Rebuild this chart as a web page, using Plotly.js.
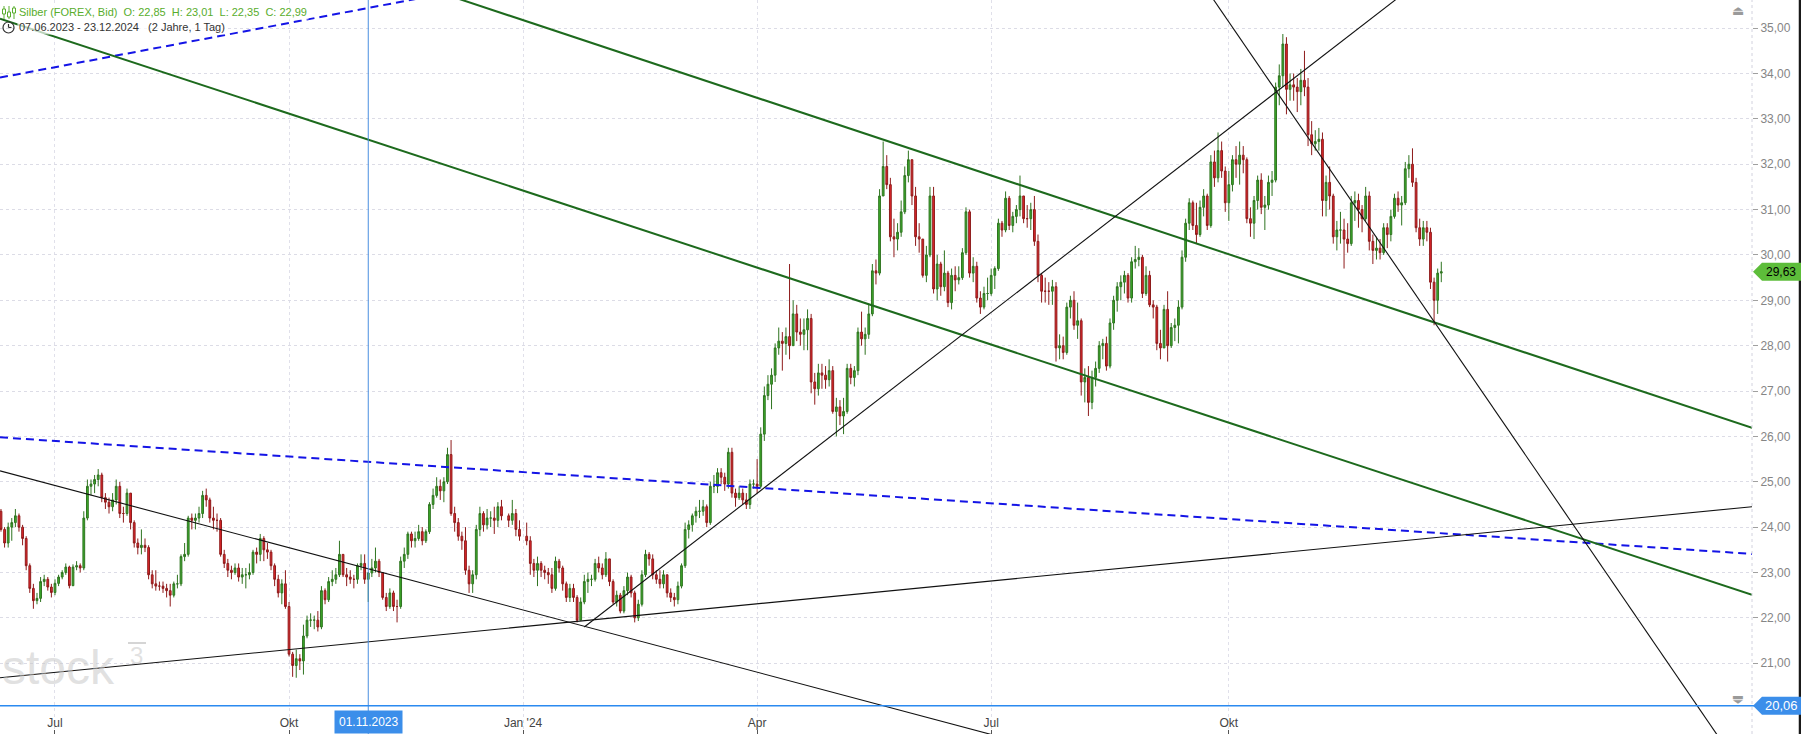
<!DOCTYPE html>
<html><head><meta charset="utf-8">
<script src="https://cdn.plot.ly/plotly-3.0.1.min.js"></script>
<style>html,body{margin:0;padding:0;background:#fff;overflow:hidden}#chart{width:1801px;height:734px}</style>
</head><body><div id="chart"></div>
<script>
// ---------- data (daily candles, Silber FOREX Bid) ----------
const dates = [
'2023-06-07','2023-06-08','2023-06-09','2023-06-12','2023-06-13','2023-06-14','2023-06-15','2023-06-16','2023-06-19','2023-06-20','2023-06-21','2023-06-22','2023-06-23','2023-06-26','2023-06-27','2023-06-28','2023-06-29','2023-06-30',
'2023-07-03','2023-07-04','2023-07-05','2023-07-06','2023-07-07','2023-07-10','2023-07-11','2023-07-12','2023-07-13','2023-07-14','2023-07-17','2023-07-18','2023-07-19','2023-07-20','2023-07-21','2023-07-24','2023-07-25','2023-07-26','2023-07-27','2023-07-28','2023-07-31',
'2023-08-01','2023-08-02','2023-08-03','2023-08-04','2023-08-07','2023-08-08','2023-08-09','2023-08-10','2023-08-11','2023-08-14','2023-08-15','2023-08-16','2023-08-17','2023-08-18','2023-08-21','2023-08-22','2023-08-23','2023-08-24','2023-08-25','2023-08-28','2023-08-29','2023-08-30','2023-08-31',
'2023-09-01','2023-09-04','2023-09-05','2023-09-06','2023-09-07','2023-09-08','2023-09-11','2023-09-12','2023-09-13','2023-09-14','2023-09-15','2023-09-18','2023-09-19','2023-09-20','2023-09-21','2023-09-22','2023-09-25','2023-09-26','2023-09-27','2023-09-28','2023-09-29',
'2023-10-02','2023-10-03','2023-10-04','2023-10-05','2023-10-06','2023-10-09','2023-10-10','2023-10-11','2023-10-12','2023-10-13','2023-10-16','2023-10-17','2023-10-18','2023-10-19','2023-10-20','2023-10-23','2023-10-24','2023-10-25','2023-10-26','2023-10-27','2023-10-30','2023-10-31',
'2023-11-01','2023-11-02','2023-11-03','2023-11-06','2023-11-07','2023-11-08','2023-11-09','2023-11-10','2023-11-13','2023-11-14','2023-11-15','2023-11-16','2023-11-17','2023-11-20','2023-11-21','2023-11-22','2023-11-23','2023-11-24','2023-11-27','2023-11-28','2023-11-29','2023-11-30',
'2023-12-01','2023-12-04','2023-12-05','2023-12-06','2023-12-07','2023-12-08','2023-12-11','2023-12-12','2023-12-13','2023-12-14','2023-12-15','2023-12-18','2023-12-19','2023-12-20','2023-12-21','2023-12-22','2023-12-26','2023-12-27','2023-12-28','2023-12-29',
'2024-01-02','2024-01-03','2024-01-04','2024-01-05','2024-01-08','2024-01-09','2024-01-10','2024-01-11','2024-01-12','2024-01-15','2024-01-16','2024-01-17','2024-01-18','2024-01-19','2024-01-22','2024-01-23','2024-01-24','2024-01-25','2024-01-26','2024-01-29','2024-01-30','2024-01-31',
'2024-02-01','2024-02-02','2024-02-05','2024-02-06','2024-02-07','2024-02-08','2024-02-09','2024-02-12','2024-02-13','2024-02-14','2024-02-15','2024-02-16','2024-02-19','2024-02-20','2024-02-21','2024-02-22','2024-02-23','2024-02-26','2024-02-27','2024-02-28','2024-02-29',
'2024-03-01','2024-03-04','2024-03-05','2024-03-06','2024-03-07','2024-03-08','2024-03-11','2024-03-12','2024-03-13','2024-03-14','2024-03-15','2024-03-18','2024-03-19','2024-03-20','2024-03-21','2024-03-22','2024-03-25','2024-03-26','2024-03-27','2024-03-28','2024-03-29',
'2024-04-01','2024-04-02','2024-04-03','2024-04-04','2024-04-05','2024-04-08','2024-04-09','2024-04-10','2024-04-11','2024-04-12','2024-04-15','2024-04-16','2024-04-17','2024-04-18','2024-04-19','2024-04-22','2024-04-23','2024-04-24','2024-04-25','2024-04-26','2024-04-29','2024-04-30',
'2024-05-01','2024-05-02','2024-05-03','2024-05-06','2024-05-07','2024-05-08','2024-05-09','2024-05-10','2024-05-13','2024-05-14','2024-05-15','2024-05-16','2024-05-17','2024-05-20','2024-05-21','2024-05-22','2024-05-23','2024-05-24','2024-05-27','2024-05-28','2024-05-29','2024-05-30','2024-05-31',
'2024-06-03','2024-06-04','2024-06-05','2024-06-06','2024-06-07','2024-06-10','2024-06-11','2024-06-12','2024-06-13','2024-06-14','2024-06-17','2024-06-18','2024-06-19','2024-06-20','2024-06-21','2024-06-24','2024-06-25','2024-06-26','2024-06-27','2024-06-28',
'2024-07-01','2024-07-02','2024-07-03','2024-07-04','2024-07-05','2024-07-08','2024-07-09','2024-07-10','2024-07-11','2024-07-12','2024-07-15','2024-07-16','2024-07-17','2024-07-18','2024-07-19','2024-07-22','2024-07-23','2024-07-24','2024-07-25','2024-07-26','2024-07-29','2024-07-30','2024-07-31',
'2024-08-01','2024-08-02','2024-08-05','2024-08-06','2024-08-07','2024-08-08','2024-08-09','2024-08-12','2024-08-13','2024-08-14','2024-08-15','2024-08-16','2024-08-19','2024-08-20','2024-08-21','2024-08-22','2024-08-23','2024-08-26','2024-08-27','2024-08-28','2024-08-29','2024-08-30',
'2024-09-02','2024-09-03','2024-09-04','2024-09-05','2024-09-06','2024-09-09','2024-09-10','2024-09-11','2024-09-12','2024-09-13','2024-09-16','2024-09-17','2024-09-18','2024-09-19','2024-09-20','2024-09-23','2024-09-24','2024-09-25','2024-09-26','2024-09-27','2024-09-30',
'2024-10-01','2024-10-02','2024-10-03','2024-10-04','2024-10-07','2024-10-08','2024-10-09','2024-10-10','2024-10-11','2024-10-14','2024-10-15','2024-10-16','2024-10-17','2024-10-18','2024-10-21','2024-10-22','2024-10-23','2024-10-24','2024-10-25','2024-10-28','2024-10-29','2024-10-30','2024-10-31',
'2024-11-01','2024-11-04','2024-11-05','2024-11-06','2024-11-07','2024-11-08','2024-11-11','2024-11-12','2024-11-13','2024-11-14','2024-11-15','2024-11-18','2024-11-19','2024-11-20','2024-11-21','2024-11-22','2024-11-25','2024-11-26','2024-11-27','2024-11-28','2024-11-29',
'2024-12-02','2024-12-03','2024-12-04','2024-12-05','2024-12-06','2024-12-09','2024-12-10','2024-12-11','2024-12-12','2024-12-13','2024-12-16','2024-12-17','2024-12-18','2024-12-19','2024-12-20','2024-12-23'
];
const open = [
23.60,23.55,24.05,24.35,23.95,23.65,24.00,24.10,24.25,24.00,23.75,23.15,22.65,22.38,22.43,22.80,22.85,22.68,
22.56,22.76,22.90,23.00,23.12,22.71,23.12,23.15,23.10,24.20,24.90,24.95,25.05,25.15,24.65,24.55,24.45,24.60,24.90,24.30,24.30,
24.75,24.10,23.65,23.55,23.60,23.55,22.95,22.75,22.70,22.70,22.65,22.60,22.50,22.75,22.75,23.35,23.40,24.20,24.15,24.20,24.30,24.70,24.60,
24.20,24.15,24.15,23.40,23.20,23.05,23.00,23.10,22.90,22.95,22.95,23.00,23.45,23.40,23.75,23.50,23.45,23.15,22.85,22.55,22.75,
22.25,21.20,20.95,21.10,21.05,21.60,21.95,21.95,21.95,21.80,22.60,22.40,22.80,22.85,22.95,23.40,22.95,22.90,22.85,22.85,23.15,23.20,
22.85,22.99,23.10,23.25,23.00,22.45,22.25,22.55,22.25,22.25,23.25,23.40,23.85,23.70,23.75,23.90,23.70,23.90,24.50,24.70,24.90,24.80,
25.00,25.60,24.30,24.10,23.80,23.70,23.05,22.75,22.95,23.95,24.30,24.05,24.20,24.20,24.15,24.45,24.25,24.15,24.30,23.95,
23.80,23.70,23.20,23.05,23.20,23.05,23.00,22.95,22.65,23.25,23.10,22.75,22.45,22.65,22.45,21.95,22.35,22.80,22.85,22.85,23.20,23.10,
22.95,23.30,22.80,22.35,22.50,22.15,22.60,22.90,22.55,22.00,22.30,22.95,23.40,23.30,22.95,22.85,22.75,22.95,22.55,22.45,22.40,
22.70,23.15,23.95,24.05,24.25,24.35,24.35,24.45,24.10,24.90,24.90,25.20,25.10,24.95,25.65,24.75,24.65,24.75,24.60,24.50,24.95,
24.95,24.90,26.05,26.90,27.15,27.35,27.95,28.10,28.05,28.20,28.00,28.70,28.30,28.25,28.35,28.60,27.20,27.05,27.40,27.35,27.25,27.45,
26.55,26.65,26.45,26.55,27.50,27.30,27.45,28.30,28.15,28.25,28.70,29.65,29.60,31.30,31.95,31.55,30.40,30.35,30.50,30.95,31.75,32.10,31.30,
30.40,30.35,29.55,30.00,31.30,29.25,29.80,29.30,29.60,28.95,29.55,29.45,29.50,30.05,30.95,29.60,29.75,29.05,28.85,29.15,
29.15,29.55,29.70,30.70,30.55,31.25,30.65,30.85,31.00,31.30,30.80,30.80,31.00,30.30,29.55,29.20,29.20,29.20,29.30,27.95,28.00,27.85,28.85,
29.00,28.45,28.55,27.20,27.30,26.75,27.30,27.50,28.00,28.05,27.55,28.50,29.00,29.30,29.40,29.55,29.05,29.85,29.90,29.95,29.15,29.55,
28.90,28.85,28.05,27.95,28.80,28.00,28.40,28.45,28.85,29.95,30.70,31.15,30.65,30.45,31.05,31.30,30.65,32.05,31.70,32.30,31.85,
31.15,31.55,32.10,32.00,32.20,32.10,30.80,30.70,31.20,31.65,31.05,31.10,31.60,31.65,33.70,33.95,34.65,33.65,33.75,33.70,33.60,33.85,33.70,
32.65,32.45,32.50,32.55,31.20,31.60,31.30,30.40,30.55,30.55,30.35,30.25,31.15,31.20,31.00,30.80,31.30,30.30,30.10,30.15,30.05,
30.60,30.45,30.85,31.25,31.10,31.15,31.90,32.00,31.60,30.60,30.35,30.60,30.50,29.40,29.00,29.60
];
const high = [
23.80,24.15,24.45,24.40,24.00,24.10,24.20,24.40,24.30,24.05,23.80,23.20,22.75,22.55,22.90,22.95,22.90,22.75,
22.85,22.95,23.05,23.20,23.15,23.18,23.25,23.20,24.35,25.05,25.05,25.15,25.28,25.20,24.75,24.65,24.75,25.05,25.00,24.45,24.85,
24.75,24.15,23.75,23.95,23.75,23.60,23.05,23.05,22.80,22.80,22.75,22.75,22.80,22.95,23.40,23.65,24.25,24.30,24.30,24.45,24.80,24.85,24.65,
24.45,24.30,24.20,23.50,23.30,23.15,23.20,23.20,23.10,23.10,23.20,23.50,23.55,23.85,23.80,23.65,23.50,23.20,22.95,22.85,23.05,
22.35,21.25,21.30,21.20,21.85,22.05,22.10,22.05,22.15,22.70,22.65,22.90,23.05,23.10,23.70,23.40,23.10,23.05,22.95,23.20,23.40,23.40,
23.01,23.30,23.55,23.30,23.00,22.55,22.65,22.60,22.40,23.35,23.55,23.90,23.90,23.90,24.05,24.00,23.95,24.55,24.85,25.10,25.05,25.10,
25.75,25.92,24.45,24.20,23.90,24.00,23.15,23.05,24.05,24.45,24.35,24.40,24.35,24.45,24.55,24.60,24.30,24.60,24.40,24.15,
24.10,23.80,23.30,23.35,23.25,23.15,23.10,23.10,23.35,23.30,23.15,22.80,22.75,22.75,22.50,22.45,22.95,23.00,22.95,23.30,23.35,23.20,
23.45,23.30,22.85,22.60,22.55,22.70,23.00,22.95,22.60,22.40,23.05,23.50,23.45,23.40,23.05,23.05,23.05,22.95,22.65,22.55,22.80,
23.20,24.10,24.15,24.30,24.45,24.60,24.60,24.50,25.00,25.15,25.30,25.30,25.20,25.75,25.75,24.85,24.90,24.85,24.75,25.05,25.05,
25.50,26.20,27.10,27.35,27.50,28.05,28.40,28.30,28.40,29.80,29.00,28.90,28.60,28.60,28.80,28.70,27.40,27.60,27.60,27.55,27.70,27.55,
26.85,26.80,26.85,27.60,27.60,27.55,28.40,28.75,28.40,28.90,29.80,29.90,31.45,32.50,32.20,31.70,30.80,30.70,31.20,31.95,32.30,32.10,31.50,
30.70,30.35,30.20,31.50,31.50,30.00,29.85,30.10,29.65,29.70,29.75,29.75,30.15,31.05,31.00,29.95,29.85,29.20,29.30,29.50,
29.70,29.75,30.80,30.75,31.40,31.30,30.95,31.10,31.75,31.30,31.10,31.15,31.30,30.45,29.60,29.50,29.40,29.45,29.40,28.25,28.20,28.95,29.10,
29.20,28.95,28.60,27.50,27.55,27.45,27.65,28.10,28.15,28.20,28.60,29.10,29.40,29.55,29.65,29.60,29.95,30.20,30.15,30.00,29.75,29.65,
29.00,28.90,28.35,28.90,29.20,28.50,28.60,29.00,30.10,30.80,31.25,31.20,31.15,31.20,31.45,31.35,32.20,32.30,32.70,32.50,31.95,
31.85,32.20,32.40,32.50,32.40,32.15,31.05,31.30,31.75,31.80,31.30,31.75,31.85,33.80,34.20,34.87,34.80,34.00,34.00,33.90,34.10,34.50,33.90,
32.95,32.75,32.80,32.70,31.75,31.95,31.35,30.75,30.95,30.80,30.70,31.30,31.40,31.35,31.10,31.50,31.40,30.45,30.40,30.35,30.70,
30.70,31.00,31.35,31.40,31.30,32.05,32.20,32.35,31.70,30.80,30.75,30.75,30.60,29.50,29.70,29.85
];
const low = [
23.30,23.45,24.00,23.90,23.55,23.55,23.70,24.00,23.90,23.60,23.05,22.55,22.20,22.30,22.35,22.70,22.60,22.45,
22.50,22.70,22.85,22.95,22.65,22.70,23.05,23.00,23.05,24.15,24.70,24.75,24.90,24.55,24.40,24.30,24.35,24.50,24.20,24.10,24.25,
23.95,23.55,23.40,23.40,23.45,22.85,22.65,22.60,22.60,22.55,22.45,22.25,22.45,22.65,22.70,23.25,23.35,23.95,23.95,24.10,24.20,24.45,24.10,
23.95,23.90,23.35,23.10,22.90,22.85,22.95,22.80,22.75,22.65,22.85,22.95,23.20,23.25,23.25,23.30,23.05,22.70,22.45,22.30,22.20,
21.15,20.70,20.68,20.85,20.75,21.55,21.80,21.75,21.70,21.75,22.30,22.35,22.70,22.75,22.90,22.90,22.70,22.75,22.65,22.75,23.05,22.75,
22.35,22.90,23.00,22.90,22.40,22.15,22.20,22.15,21.90,22.20,23.10,23.30,23.55,23.55,23.70,23.60,23.65,23.85,24.40,24.65,24.60,24.55,
24.95,24.25,23.90,23.70,23.50,22.95,22.55,22.55,22.85,23.80,23.90,23.95,24.00,23.85,24.00,24.15,24.00,24.05,23.80,23.70,
23.60,22.95,22.90,22.70,22.90,22.85,22.75,22.55,22.60,23.00,22.60,22.35,22.35,22.35,21.90,21.95,22.30,22.55,22.70,22.80,23.00,22.85,
22.90,22.70,22.30,22.25,22.10,22.10,22.50,22.45,21.90,21.93,22.25,22.90,23.15,22.85,22.75,22.65,22.65,22.45,22.35,22.25,22.30,
22.65,23.10,23.75,23.90,24.10,24.20,24.25,24.00,24.05,24.75,24.75,24.95,24.80,24.85,24.65,24.45,24.60,24.50,24.40,24.40,24.85,
24.75,24.85,25.90,26.80,26.60,27.20,27.80,27.45,27.80,27.70,28.00,28.10,28.00,27.90,27.90,26.95,26.70,26.90,27.05,27.05,27.10,26.50,
26.00,26.25,26.05,26.50,27.15,27.10,27.35,28.00,27.80,28.15,28.65,29.35,29.55,31.30,31.45,30.30,29.95,30.10,30.40,30.90,31.60,31.10,30.20,
30.05,29.50,29.40,29.95,29.15,29.00,29.10,29.20,28.85,28.80,29.20,29.35,29.45,30.00,29.50,29.40,28.95,28.70,28.80,29.00,
29.10,29.25,29.65,30.40,30.50,30.55,30.50,30.70,30.85,30.70,30.60,30.55,30.20,29.40,28.95,28.95,28.90,28.90,27.65,27.70,27.70,27.80,28.60,
28.35,28.15,26.90,26.75,26.45,26.60,27.10,27.40,27.70,27.45,27.50,28.35,28.75,29.00,29.15,28.95,28.95,29.70,29.75,29.05,29.10,28.85,
28.60,27.90,27.70,27.95,27.65,27.95,28.10,28.05,28.80,29.85,30.55,30.55,30.25,30.40,30.85,30.55,30.60,31.50,31.60,31.70,30.95,
30.75,31.40,31.70,31.55,31.80,30.70,30.40,30.35,31.00,30.90,30.55,31.00,31.30,31.60,33.30,33.70,33.10,33.40,33.40,33.15,33.30,33.50,32.40,
32.20,32.30,32.30,30.85,30.85,31.00,30.25,30.10,30.25,29.70,30.05,30.20,30.75,30.60,30.50,30.75,30.10,29.80,29.90,29.90,30.00,
30.15,30.30,30.80,30.95,30.65,31.10,31.70,31.50,30.50,30.20,30.20,30.30,29.25,28.45,28.70,29.40
];
const close = [
23.55,24.05,24.35,23.95,23.65,24.00,24.10,24.25,24.00,23.75,23.15,22.65,22.38,22.43,22.80,22.85,22.68,22.56,
22.76,22.90,23.00,23.12,22.71,23.12,23.15,23.10,24.20,24.90,24.95,25.05,25.15,24.65,24.55,24.45,24.60,24.90,24.30,24.30,24.75,
24.10,23.65,23.55,23.60,23.55,22.95,22.75,22.70,22.70,22.65,22.60,22.50,22.75,22.75,23.35,23.40,24.20,24.15,24.20,24.30,24.70,24.60,24.20,
24.15,24.15,23.40,23.20,23.05,23.00,23.10,22.90,22.95,22.95,23.00,23.45,23.40,23.75,23.50,23.45,23.15,22.85,22.55,22.75,22.25,
21.20,20.95,21.10,21.05,21.60,21.95,21.95,21.95,21.80,22.60,22.40,22.80,22.85,22.95,23.40,22.95,22.90,22.85,22.85,23.15,23.20,22.85,
22.99,23.10,23.25,23.00,22.45,22.25,22.55,22.25,22.25,23.25,23.40,23.85,23.70,23.75,23.90,23.70,23.90,24.50,24.70,24.90,24.80,25.00,
25.60,24.30,24.10,23.80,23.70,23.05,22.75,22.95,23.95,24.30,24.05,24.20,24.20,24.15,24.45,24.25,24.15,24.30,23.95,23.80,
23.70,23.20,23.05,23.20,23.05,23.00,22.95,22.65,23.25,23.10,22.75,22.45,22.65,22.45,21.95,22.35,22.80,22.85,22.85,23.20,23.10,22.95,
23.30,22.80,22.35,22.50,22.15,22.60,22.90,22.55,22.00,22.30,22.95,23.40,23.30,22.95,22.85,22.75,22.95,22.55,22.45,22.40,22.70,
23.15,23.95,24.05,24.25,24.35,24.35,24.45,24.10,24.90,24.90,25.20,25.10,24.95,25.65,24.75,24.65,24.75,24.60,24.50,24.95,24.95,
24.90,26.05,26.90,27.15,27.35,27.95,28.10,28.05,28.20,28.00,28.70,28.30,28.25,28.35,28.60,27.20,27.05,27.40,27.35,27.25,27.45,26.55,
26.65,26.45,26.55,27.50,27.30,27.45,28.30,28.15,28.25,28.70,29.65,29.60,31.30,31.95,31.55,30.40,30.35,30.50,30.95,31.75,32.10,31.30,30.40,
30.35,29.55,30.00,31.30,29.25,29.80,29.30,29.60,28.95,29.55,29.45,29.50,30.05,30.95,29.60,29.75,29.05,28.85,29.15,29.15,
29.55,29.70,30.70,30.55,31.25,30.65,30.85,31.00,31.30,30.80,30.80,31.00,30.30,29.55,29.20,29.20,29.20,29.30,27.95,28.00,27.85,28.85,29.00,
28.45,28.55,27.20,27.30,26.75,27.30,27.50,28.00,28.05,27.55,28.50,29.00,29.30,29.40,29.55,29.05,29.85,29.90,29.95,29.15,29.55,28.90,
28.85,28.05,27.95,28.80,28.00,28.40,28.45,28.85,29.95,30.70,31.15,30.65,30.45,31.05,31.30,30.65,32.05,31.70,32.30,31.85,31.15,
31.55,32.10,32.00,32.20,32.10,30.80,30.70,31.20,31.65,31.05,31.10,31.60,31.65,33.70,33.95,34.65,33.65,33.75,33.70,33.60,33.85,33.70,32.65,
32.45,32.50,32.55,31.20,31.60,31.30,30.40,30.55,30.55,30.35,30.25,31.15,31.20,31.00,30.80,31.30,30.30,30.10,30.15,30.05,30.60,
30.45,30.85,31.25,31.10,31.15,31.90,32.00,31.60,30.60,30.35,30.60,30.50,29.40,29.00,29.60,29.63
];

// axis / labels
const tickDates  = ['2023-07-03','2023-10-02','2024-01-01','2024-04-01','2024-07-01','2024-10-01'];
const tickLabels = ['Jul','Okt',"Jan '24",'Apr','Jul','Okt'];
const priceTicks = [21,22,23,24,25,26,27,28,29,30,31,32,33,34,35];
const viewDates  = ['2023-06-09 17:30','2025-04-22 07:00'];
const viewPrices = [19.44, 35.62];

// drawn trend lines: [date at left, date at right], [price at left, price at right]
const blueUpperY  = [33.91, 41.21];
const blueLowerY  = [25.98, 23.41];
const greenUpperY = [39.00, 26.19];
const greenLowerY = [35.21, 22.51];
const blackDownY  = [25.24, 14.97];
const blackFlatY  = [20.68, 24.45];
const blackSteepY = [74.68, 18.30];
const blackUpX    = ['2024-01-24', viewDates[1]];
const blackUpY    = [21.80, 41.70];

// markers
const crosshairDate = '2023-11-01';
const lastPrice = 29.63;
const markerLevel = 20.06;
const instrument = 'Silber (FOREX, Bid)';
const periodText = '07.06.2023 - 23.12.2024';
const periodSpan = '(2 Jahre, 1 Tag)';

// ---------- drawing ----------
const W = 1752, H = 734;
const px = v => v / W;
const py = v => 1 - v / H;
const fmt = v => v.toFixed(2).replace('.', ',');
const ci = dates.indexOf(crosshairDate);
const nb = '\u00a0';
const headline = instrument + nb + nb + 'O: ' + fmt(open[ci]) + nb + nb + 'H: ' + fmt(high[ci]) + nb + nb + 'L: ' + fmt(low[ci]) + nb + nb + 'C: ' + fmt(close[ci]);

const font = 'Liberation Sans, Arial, sans-serif';

const candles = {
  type: 'candlestick', x: dates, open: open, high: high, low: low, close: close,
  increasing: {line: {color: '#2f7420', width: 1}, fillcolor: '#3cad2a'},
  decreasing: {line: {color: '#8e1b1b', width: 1}, fillcolor: '#e3272b'},
  whiskerwidth: 0, hoverinfo: 'skip', showlegend: false
};
function line(x, y, color, width, dash) {
  return {type: 'scatter', mode: 'lines', x: x, y: y, hoverinfo: 'skip', showlegend: false,
          line: {color: color, width: width, dash: dash || 'solid'}};
}
const traces = [
  candles,
  line(viewDates, blueUpperY, '#1414e6', 2, '8px,5px'),
  line(viewDates, blueLowerY, '#1414e6', 2, '8px,5px'),
  line(viewDates, greenUpperY, '#1d6a1d', 2),
  line(viewDates, greenLowerY, '#1d6a1d', 2),
  line(viewDates, blackDownY, '#111111', 1.1),
  line(viewDates, blackFlatY, '#111111', 1.1),
  line(viewDates, blackSteepY, '#111111', 1.1),
  line(blackUpX, blackUpY, '#111111', 1.1)
];

const uy = 9 / 45.36; // half label height in price units
const shapes = [
  {type: 'line', xref: 'paper', yref: 'paper', x0: 1, x1: 1, y0: 0, y1: 1, line: {color: '#d2d2de', width: 1, dash: 'dot'}},
  {type: 'line', xref: 'paper', yref: 'paper', x0: px(1800), x1: px(1800), y0: 0, y1: 1, line: {color: '#1a1a1a', width: 2.5}},
  {type: 'line', xref: 'x', yref: 'paper', x0: crosshairDate, x1: crosshairDate, y0: 0, y1: 1, line: {color: '#4a8ee0', width: 1}},
  {type: 'line', xref: 'paper', yref: 'y', x0: 0, x1: px(1756), y0: markerLevel, y1: markerLevel, line: {color: '#2b8af0', width: 1.5}},
  {type: 'path', xref: 'paper', yref: 'y', fillcolor: '#5dbd3a', line: {width: 0},
   path: `M ${px(1753)},${lastPrice} L ${px(1762)},${lastPrice + uy} L ${px(1801)},${lastPrice + uy} L ${px(1801)},${lastPrice - uy} L ${px(1762)},${lastPrice - uy} Z`},
  {type: 'path', xref: 'paper', yref: 'y', fillcolor: '#3b8eea', line: {width: 0},
   path: `M ${px(1753)},${markerLevel} L ${px(1762)},${markerLevel + uy} L ${px(1801)},${markerLevel + uy} L ${px(1801)},${markerLevel - uy} L ${px(1762)},${markerLevel - uy} Z`},
  {type: 'line', xref: 'paper', yref: 'paper', x0: px(4), x1: px(4), y0: py(6), y1: py(19), line: {color: '#5aae2e', width: 1}},
  {type: 'line', xref: 'paper', yref: 'paper', x0: px(9), x1: px(9), y0: py(6), y1: py(19), line: {color: '#5aae2e', width: 1}},
  {type: 'line', xref: 'paper', yref: 'paper', x0: px(14), x1: px(14), y0: py(6), y1: py(19), line: {color: '#5aae2e', width: 1}},
  {type: 'rect', xref: 'paper', yref: 'paper', x0: px(2.5), x1: px(5.5), y0: py(9), y1: py(14), fillcolor: '#ffffff', line: {color: '#5aae2e', width: 1}},
  {type: 'rect', xref: 'paper', yref: 'paper', x0: px(7.5), x1: px(10.5), y0: py(12), y1: py(17), fillcolor: '#ffffff', line: {color: '#5aae2e', width: 1}},
  {type: 'rect', xref: 'paper', yref: 'paper', x0: px(12.5), x1: px(15.5), y0: py(8), y1: py(13), fillcolor: '#ffffff', line: {color: '#5aae2e', width: 1}},
  {type: 'circle', xref: 'paper', yref: 'paper', x0: px(3), x1: px(14), y0: py(22), y1: py(33), line: {color: '#333', width: 1.2}},
  {type: 'line', xref: 'paper', yref: 'paper', x0: px(8.5), x1: px(8.5), y0: py(27.5), y1: py(24), line: {color: '#333', width: 1.2}},
  {type: 'line', xref: 'paper', yref: 'paper', x0: px(8.5), x1: px(11.5), y0: py(27.5), y1: py(27.5), line: {color: '#333', width: 1.2}},
  {type: 'line', xref: 'paper', yref: 'paper', x0: px(128), x1: px(146), y0: py(643), y1: py(643), line: {color: 'rgba(195,195,195,0.7)', width: 2}}
];

const annotations = [
  {xref: 'paper', yref: 'paper', x: px(17), y: py(12.5), xanchor: 'left', yanchor: 'middle', showarrow: false,
   text: headline, font: {family: font, size: 11, color: '#58ad2c'}, bgcolor: 'rgba(255,255,255,0.7)', borderpad: 1},
  {xref: 'paper', yref: 'paper', x: px(17), y: py(27.5), xanchor: 'left', yanchor: 'middle', showarrow: false,
   text: periodText + nb + nb + nb + periodSpan, font: {family: font, size: 11, color: '#333333'}, bgcolor: 'rgba(255,255,255,0.7)', borderpad: 1},
  {xref: 'paper', yref: 'paper', x: px(0), y: py(667), xanchor: 'left', yanchor: 'middle', showarrow: false,
   text: 'stock', font: {family: font, size: 48, color: 'rgba(200,200,200,0.55)'}},
  {xref: 'paper', yref: 'paper', x: px(128), y: py(655), xanchor: 'left', yanchor: 'middle', showarrow: false,
   text: '3', font: {family: font, size: 24, color: 'rgba(200,200,200,0.55)'}},
  {xref: 'paper', yref: 'y', x: px(1781), y: lastPrice, xanchor: 'center', yanchor: 'middle', showarrow: false,
   text: fmt(lastPrice), font: {family: font, size: 12, color: '#000000'}},
  {xref: 'paper', yref: 'y', x: px(1781), y: markerLevel, xanchor: 'center', yanchor: 'middle', showarrow: false,
   text: fmt(markerLevel), font: {family: font, size: 13, color: '#ffffff'}},
  {xref: 'x', yref: 'paper', x: crosshairDate, y: 0, xanchor: 'center', yanchor: 'bottom', showarrow: false,
   text: crosshairDate.split('-').reverse().join('.'), font: {family: font, size: 12, color: '#ffffff'},
   bgcolor: '#3b8eea', borderpad: 4},
  {xref: 'paper', yref: 'paper', x: px(1738), y: py(11), xanchor: 'center', yanchor: 'middle', showarrow: false,
   text: '\u23cf', font: {family: 'DejaVu Sans', size: 13, color: '#9a9a9a'}},
  {xref: 'paper', yref: 'paper', x: px(1738), y: py(701), xanchor: 'center', yanchor: 'middle', showarrow: false, textangle: 180,
   text: '\u23cf', font: {family: 'DejaVu Sans', size: 13, color: '#9a9a9a'}}
];

const layout = {
  width: 1801, height: 734,
  margin: {l: 0, r: 49, t: 0, b: 0, pad: 0},
  paper_bgcolor: '#ffffff', plot_bgcolor: '#ffffff',
  separators: ',.',
  font: {family: font, size: 12, color: '#444'},
  showlegend: false, hovermode: false, dragmode: false,
  xaxis: {
    type: 'date', range: viewDates, rangebreaks: [{bounds: ['sat', 'mon']}],
    rangeslider: {visible: false}, automargin: false,
    tickmode: 'array', tickvals: tickDates, ticktext: tickLabels,
    ticklabelposition: 'inside', ticks: 'inside', ticklen: 4, tickcolor: '#555',
    tickfont: {family: font, size: 12, color: '#444'},
    showgrid: true, gridcolor: '#e0e0ea', griddash: 'dot', gridwidth: 1,
    zeroline: false, showline: false, fixedrange: true
  },
  yaxis: {
    side: 'right', range: viewPrices, automargin: false,
    tickmode: 'array', tickvals: priceTicks, tickformat: '.2f',
    ticks: 'outside', ticklen: 5, tickcolor: '#a0a0a0',
    tickfont: {family: font, size: 12, color: '#858585'},
    showgrid: true, gridcolor: '#dcdce6', griddash: 'dot', gridwidth: 1,
    zeroline: false, showline: false, fixedrange: true
  },
  shapes: shapes,
  annotations: annotations
};

Plotly.newPlot('chart', traces, layout, {staticPlot: true, displayModeBar: false});
</script>
</body></html>
